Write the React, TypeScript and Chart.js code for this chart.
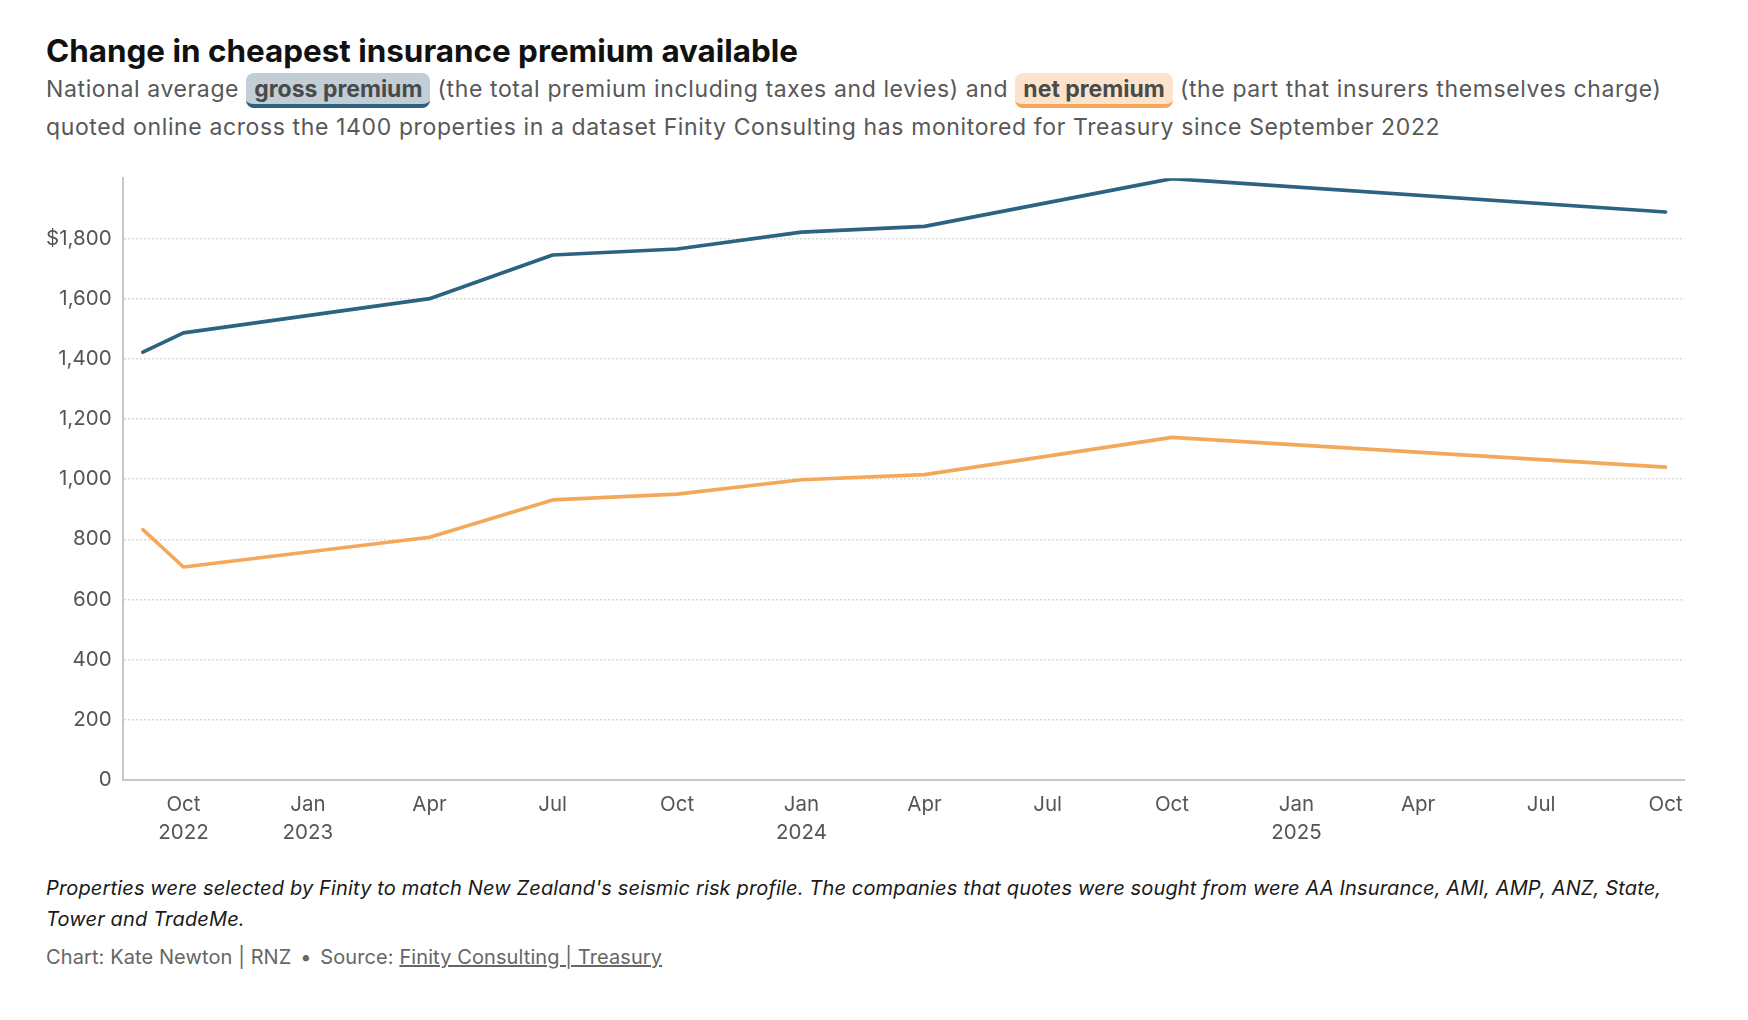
import React, { useEffect, useRef } from "react";
import { Chart, registerables } from "chart.js";

Chart.register(...registerables);

// Survey dates and national average premiums (NZD)
const surveyDates = [
  "2022-09-01",
  "2022-10-01",
  "2023-04-01",
  "2023-07-01",
  "2023-10-01",
  "2024-01-01",
  "2024-04-01",
  "2024-10-01",
  "2025-10-01",
];
const grossPremium = [1422, 1486, 1600, 1745, 1765, 1821, 1840, 1999, 1888];
const netPremium = [832, 708, 807, 931, 950, 998, 1015, 1139, 1040];

// Quarterly ticks along the time axis
const xTickDates = [
  "2022-10-01",
  "2023-01-01",
  "2023-04-01",
  "2023-07-01",
  "2023-10-01",
  "2024-01-01",
  "2024-04-01",
  "2024-07-01",
  "2024-10-01",
  "2025-01-01",
  "2025-04-01",
  "2025-07-01",
  "2025-10-01",
];
const xTickLabels: (string | string[])[] = [
  ["Oct", "2022"],
  ["Jan", "2023"],
  "Apr",
  "Jul",
  "Oct",
  ["Jan", "2024"],
  "Apr",
  "Jul",
  "Oct",
  ["Jan", "2025"],
  "Apr",
  "Jul",
  "Oct",
];
const xRangeStart = "2022-08-17";
const xRangeEnd = "2025-10-15";

const yTickValues = [0, 200, 400, 600, 800, 1000, 1200, 1400, 1600, 1800];
const yTickLabels = ["0", "200", "400", "600", "800", "1,000", "1,200", "1,400", "1,600", "$1,800"];
const yMax = 2000;

const BLUE = "#2c6380";
const ORANGE = "#f4a95a";
const FONT = "Inter, 'Noto Sans', sans-serif";

const toDay = (d: string) => Date.parse(d + "T00:00:00Z") / 86400000;

function PremiumChart() {
  const ref = useRef<HTMLCanvasElement | null>(null);

  useEffect(() => {
    if (!ref.current) return;
    const xs = surveyDates.map(toDay);
    const chart = new Chart(ref.current, {
      type: "line",
      data: {
        datasets: [
          {
            label: "Gross premium",
            data: xs.map((x, i) => ({ x, y: grossPremium[i] })),
            borderColor: BLUE,
            borderWidth: 3.7,
            pointRadius: 0,
            tension: 0,
            borderCapStyle: "round",
            borderJoinStyle: "round",
          },
          {
            label: "Net premium",
            data: xs.map((x, i) => ({ x, y: netPremium[i] })),
            borderColor: ORANGE,
            borderWidth: 3.7,
            pointRadius: 0,
            tension: 0,
            borderCapStyle: "round",
            borderJoinStyle: "round",
          },
        ],
      },
      options: {
        animation: false,
        responsive: false,
        maintainAspectRatio: false,
        layout: { padding: { left: 0, right: 63.5, top: 18.3, bottom: 0 } },
        plugins: {
          legend: { display: false },
          tooltip: { enabled: false },
        },
        scales: {
          x: {
            type: "linear",
            min: toDay(xRangeStart),
            max: toDay(xRangeEnd),
            afterBuildTicks: (scale: any) => {
              scale.ticks = xTickDates.map((d) => ({ value: toDay(d) }));
            },
            afterFit: (scale: any) => {
              scale.height = 80;
              scale.paddingLeft = 0;
              scale.paddingRight = 0;
            },
            ticks: {
              autoSkip: false,
              maxRotation: 0,
              padding: 11,
              color: "#555",
              font: { family: FONT, size: 20.5, lineHeight: 1.36 },
              callback: (_v: any, i: number) => xTickLabels[i],
            },
            grid: { display: false, drawTicks: false },
            border: { display: true, color: "#c8c8c8", width: 2 },
          },
          y: {
            min: 0,
            max: yMax,
            afterBuildTicks: (scale: any) => {
              scale.ticks = yTickValues.map((v) => ({ value: v }));
            },
            afterFit: (scale: any) => {
              scale.width = 122.6;
              scale.paddingTop = 0;
              scale.paddingBottom = 0;
            },
            ticks: {
              padding: 11,
              color: "#555",
              font: { family: FONT, size: 20.5 },
              callback: (_v: any, i: number) => yTickLabels[i],
            },
            grid: {
              color: "#dadada",
              lineWidth: 1.5,
              drawTicks: false,
            },
            border: { display: true, color: "#c8c8c8", width: 2, dash: [2, 2] },
          },
        },
      },
    });
    return () => chart.destroy();
  }, []);

  return <canvas ref={ref} width={1748} height={700} style={{ width: 1748, height: 700, display: "block" }} />;
}

const pill = (bg: string, line: string): React.CSSProperties => ({
  background: bg,
  borderBottom: `4px solid ${line}`,
  borderRadius: 8,
  padding: "2px 8px 1px",
  margin: 0,
  fontWeight: 700,
  color: "#4a4a4a",
  letterSpacing: 0,
});

export default function App() {
  return (
    <div
      style={{
        position: "absolute",
        left: 0,
        top: 0,
        width: 1748,
        height: 1020,
        background: "#fff",
        fontFamily: FONT,
        overflow: "hidden",
      }}
    >
      <div
        style={{
          position: "absolute",
          left: 46,
          top: 31,
          fontSize: 31.4,
          lineHeight: "40px",
          fontWeight: 700,
          color: "#111",
          letterSpacing: 0,
          whiteSpace: "nowrap",
        }}
      >
        Change in cheapest insurance premium available
      </div>
      <div
        style={{
          position: "absolute",
          left: 46,
          top: 71,
          width: 1690,
          fontSize: 23,
          lineHeight: "37.5px",
          color: "#585858",
          letterSpacing: 0.62,
          whiteSpace: "nowrap",
        }}
      >
        National average <span style={pill("#c2ced6", BLUE)}>gross premium</span> (the total premium including taxes
        and levies) and <span style={pill("#fbe3cc", ORANGE)}>net premium</span> (the part that insurers themselves
        charge)
        <br />
        quoted online across the 1400 properties in a dataset Finity Consulting has monitored for Treasury since
        September 2022
      </div>
      <div style={{ position: "absolute", left: 0, top: 160 }}>
        <PremiumChart />
      </div>
      <div
        style={{
          position: "absolute",
          left: 46,
          top: 873,
          width: 1700,
          fontSize: 20,
          lineHeight: "30.6px",
          fontStyle: "italic",
          color: "#1a1a1a",
          letterSpacing: 0.15,
          whiteSpace: "nowrap",
        }}
      >
        Properties were selected by Finity to match New Zealand's seismic risk profile. The companies that quotes
        were sought from were AA Insurance, AMI, AMP, ANZ, State,
        <br />
        Tower and TradeMe.
      </div>
      <div
        style={{
          position: "absolute",
          left: 46,
          top: 944,
          fontSize: 20,
          lineHeight: "27px",
          color: "#666",
          letterSpacing: 0.1,
          whiteSpace: "nowrap",
        }}
      >
        Chart: Kate Newton | RNZ <span style={{ margin: "0 3px" }}>•</span> Source:{" "}
        <span style={{ textDecoration: "underline" }}>Finity Consulting | Treasury</span>
      </div>
    </div>
  );
}
